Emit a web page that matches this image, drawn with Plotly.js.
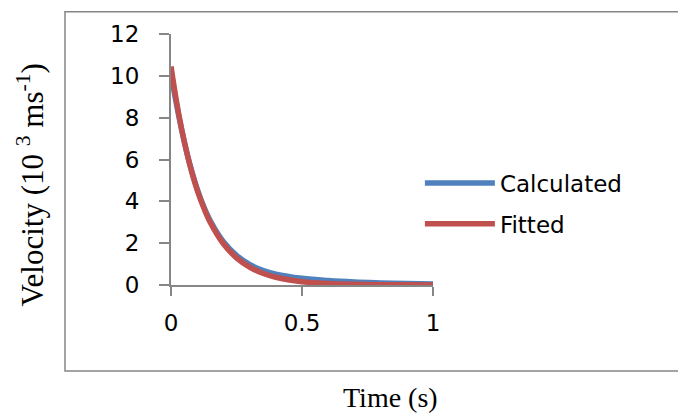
<!DOCTYPE html>
<html>
<head>
<meta charset="utf-8">
<script src="https://cdn.plot.ly/plotly-3.0.1.min.js"></script>
<style>html,body{margin:0;padding:0;background:#fff;}</style>
</head>
<body>
<div id="chart" style="width:678px;height:413px;"></div>
<script>
// Time (s)
const time = [0, 0.02, 0.04, 0.06, 0.08, 0.10, 0.125, 0.15, 0.2, 0.25, 0.3, 0.35, 0.4, 0.5, 0.6, 0.7, 0.8, 0.9, 1.0];
// Velocity (10^3 m/s)
const calculated = [10.1, 8.7, 7.45, 6.35, 5.4, 4.6, 3.75, 3.07, 2.07, 1.42, 0.98, 0.70, 0.52, 0.32, 0.21, 0.14, 0.10, 0.07, 0.05];
const fitted = [10.45, 8.85, 7.49, 6.34, 5.37, 4.54, 3.69, 2.99, 1.97, 1.30, 0.86, 0.56, 0.37, 0.16, 0.07, 0.03, 0.013, 0.006, 0.003];
const seriesNames = ['Calculated', 'Fitted'];
const xTicks = [0, 0.5, 1];
const xTickText = ['0', '0.5', '1'];
const yTicks = [0, 2, 4, 6, 8, 10, 12];

const axisColor = '#868686';
const tickFont = {family: 'DejaVu Sans', size: 23, color: '#000'};

const traces = [
  {x: time, y: calculated, name: seriesNames[0], mode: 'lines', legendgroup: 'a',
   line: {color: '#4F81BD', width: 5.5, shape: 'spline'}},
  {x: time, y: fitted, name: seriesNames[1], mode: 'lines', legendgroup: 'b',
   line: {color: '#C0504D', width: 5.5, shape: 'spline'}}
];

const layout = {
  width: 678, height: 413,
  margin: {l: 171, r: 245, t: 34, b: 128},
  paper_bgcolor: '#fff', plot_bgcolor: '#fff',
  showlegend: true,
  legend: {x: 0.95, xanchor: 'left', y: 0.325, yanchor: 'middle',
           font: {family: 'DejaVu Sans', size: 23, color: '#000'},
           traceorder: 'grouped', tracegroupgap: 8, itemwidth: 70,
           bgcolor: 'rgba(0,0,0,0)'},
  xaxis: {range: [0, 1], tickvals: xTicks, ticktext: xTickText, showgrid: false, zeroline: false,
          showline: true, linecolor: axisColor, linewidth: 2,
          ticks: 'outside', ticklen: 9, tickwidth: 2, tickcolor: axisColor,
          tickfont: tickFont, ticklabelstandoff: 7},
  yaxis: {range: [0, 12], tickvals: yTicks, showgrid: false, zeroline: false,
          showline: true, linecolor: axisColor, linewidth: 2,
          ticks: 'outside', ticklen: 10, tickwidth: 2, tickcolor: axisColor,
          tickfont: tickFont, ticklabelstandoff: 15},
  shapes: [{type: 'rect', xref: 'paper', yref: 'paper',
            x0: -0.4046, x1: 1.95, y0: -0.3426, y1: 1.0888,
            line: {color: axisColor, width: 1.5}, layer: 'below'}],
  annotations: [
    {text: 'Time (s)', xref: 'paper', yref: 'paper', x: 0.836, y: -0.448,
     xanchor: 'center', yanchor: 'middle', showarrow: false, borderpad: 0,
     font: {family: 'Liberation Serif', size: 28, color: '#000'}},
    {text: 'Velocity (10 <sup>3</sup> ms<sup>-1</sup>)', xref: 'paper', yref: 'paper', x: -0.535, y: 0.40,
     xanchor: 'center', yanchor: 'middle', showarrow: false, textangle: -90,
     font: {family: 'Liberation Serif', size: 31, color: '#000'}}
  ]
};

Plotly.newPlot('chart', traces, layout, {staticPlot: true, displayModeBar: false});
</script>
</body>
</html>
